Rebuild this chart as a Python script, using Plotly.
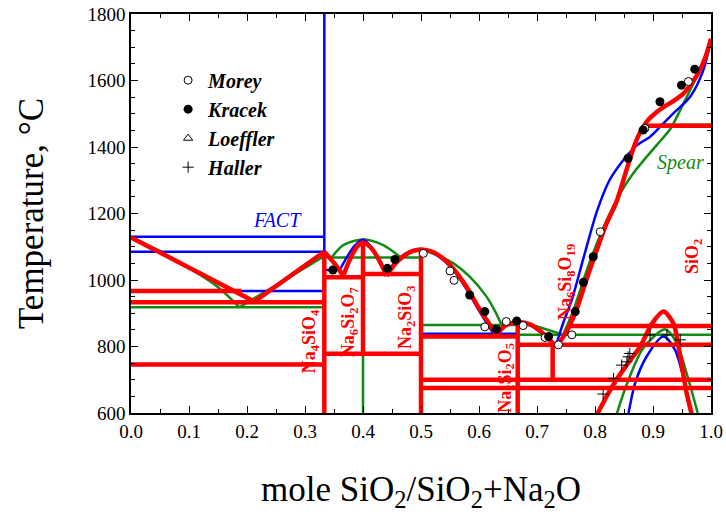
import plotly.graph_objects as go

# ---------------- data: mole fraction SiO2 vs temperature (deg C) ----------------
# assessed (red) liquidus branches
red_left_x = [0.0, 0.2126, 0.3333]
red_left_t = [1128, 935, 1085]
red_n6a_x = [0.3333, 0.345, 0.356, 0.366]
red_n6a_t = [1085, 1062, 1038, 1012]
red_n6_x = [0.366, 0.375, 0.385, 0.393, 0.4, 0.408, 0.418, 0.43, 0.441]
red_n6_t = [1012, 1052, 1088, 1106, 1113, 1106, 1088, 1052, 1012]
red_ns_x = [0.441, 0.455, 0.47, 0.485, 0.5, 0.52, 0.54, 0.56, 0.58, 0.60, 0.615, 0.63]
red_ns_t = [1012, 1048, 1072, 1087, 1092, 1085, 1062, 1025, 975, 915, 875, 835]
red_ns2_x = [0.63, 0.645, 0.667, 0.69, 0.71, 0.733]
red_ns2_t = [835, 862, 874, 865, 840, 800]
red_sio2_x = [0.733, 0.75, 0.768, 0.785, 0.803, 0.82, 0.837, 0.855, 0.868, 0.878, 0.89,
              0.905, 0.92, 0.935, 0.952, 0.965, 0.978, 0.99, 1.0]
red_sio2_t = [800, 842, 910, 1000, 1090, 1170, 1235, 1335, 1405, 1445, 1478,
              1503, 1522, 1538, 1560, 1588, 1622, 1668, 1725]
red_gap_x = [0.795, 0.803, 0.82, 0.837, 0.858, 0.878, 0.898, 0.918, 0.935, 0.947, 0.958, 0.967, 0.972]
red_gap_t = [570, 594, 650, 700, 752, 800, 868, 905, 870, 770, 660, 594, 560]

# red invariant lines: (x_start, x_end, T)
red_h = [(0.0, 0.19, 967), (0.0, 0.3333, 933), (0.0, 0.3333, 746),
         (0.3333, 0.4, 1008), (0.4, 0.5, 1018), (0.3333, 0.5, 778),
         (0.5, 0.6667, 830), (0.5, 1.0, 700), (0.5, 1.0, 675),
         (0.6667, 1.0, 805), (0.754, 1.0, 862), (0.886, 1.0, 1464)]
# red compound lines: (x, T_low, T_high)
red_v = [(0.3333, 600, 1085), (0.4, 778, 1113), (0.5, 600, 1092),
         (0.6667, 600, 874), (0.727, 700, 805)]

# FACT (blue)
blue_h = [(0.0, 0.3333, 1130), (0.0, 0.3333, 1085), (0.0, 0.3333, 967),
          (0.3333, 0.36, 1030), (0.5, 0.6667, 838), (0.6667, 1.0, 805)]
blue_v = [(0.3333, 600, 1800)]
blue_n6a_x = [0.3333, 0.345, 0.36]
blue_n6a_t = [1085, 1060, 1030]
blue_n6_x = [0.36, 0.372, 0.385, 0.4, 0.413, 0.427, 0.44]
blue_n6_t = [1030, 1068, 1102, 1122, 1102, 1062, 1020]
blue_ns_x = [0.44, 0.46, 0.48, 0.5, 0.52, 0.54, 0.56, 0.58, 0.60, 0.625]
blue_ns_t = [1020, 1062, 1085, 1093, 1082, 1058, 1020, 968, 908, 838]
blue_ns2_x = [0.625, 0.645, 0.667, 0.69, 0.71, 0.733]
blue_ns2_t = [838, 862, 872, 862, 838, 805]
blue_sio2_x = [0.733, 0.745, 0.76, 0.78, 0.803, 0.825, 0.849, 0.872, 0.895, 0.915,
               0.935, 0.964, 0.987, 1.0]
blue_sio2_t = [805, 870, 940, 1065, 1205, 1300, 1361, 1405, 1431, 1466,
               1501, 1551, 1632, 1725]
blue_gap_x = [0.852, 0.857, 0.869, 0.889, 0.918, 0.938, 0.952, 0.967, 0.972]
blue_gap_t = [560, 594, 689, 770, 830, 790, 709, 594, 560]

# Spear (green)
green_h = [(0.0, 0.3333, 918), (0.345, 0.5, 1068), (0.5, 0.6667, 865),
           (0.6667, 1.0, 835), (0.91, 1.0, 1467)]
green_v = [(0.4, 600, 778)]
green_left_x = [0.0, 0.057, 0.149, 0.187]
green_left_t = [1128, 1080, 980, 918]
green_n4_x = [0.187, 0.26, 0.3333, 0.345]
green_n4_t = [918, 995, 1072, 1066]
green_n6_x = [0.345, 0.366, 0.4, 0.435, 0.465]
green_n6_t = [1066, 1105, 1122, 1105, 1068]
green_ns_x = [0.465, 0.485, 0.5, 0.527, 0.556, 0.584, 0.613, 0.628, 0.639]
green_ns_t = [1068, 1085, 1090, 1075, 1050, 1010, 950, 905, 865]
green_ns2_x = [0.639, 0.667, 0.70, 0.745]
green_ns2_t = [865, 873, 860, 835]
green_sio2_x = [0.745, 0.763, 0.79, 0.82, 0.845, 0.866, 0.885, 0.906, 0.93, 0.947,
                0.961, 0.978, 0.992, 1.0]
green_sio2_t = [835, 910, 1050, 1180, 1265, 1321, 1362, 1405, 1455, 1511,
                1561, 1620, 1682, 1725]
green_gap_x = [0.832, 0.837, 0.86, 0.883, 0.921, 0.941, 0.958, 0.978, 0.983]
green_gap_t = [560, 594, 710, 795, 852, 810, 719, 594, 560]

# experimental points
morey_x = [0.504, 0.55, 0.557, 0.61, 0.647, 0.676, 0.714, 0.737, 0.76, 0.809, 0.886, 0.961]
morey_t = [1080, 1027, 999, 859, 875, 863, 827, 805, 835, 1145, 1456, 1597]
kracek_x = [0.348, 0.442, 0.455, 0.584, 0.61, 0.63, 0.665, 0.72, 0.766, 0.78, 0.797,
            0.857, 0.883, 0.912, 0.949, 0.972]
kracek_t = [1030, 1035, 1062, 955, 905, 852, 877, 830, 905, 993, 1070,
            1366, 1451, 1536, 1586, 1634]
loeffler_x = [None]
loeffler_t = [None]
haller_x = [0.814, 0.832, 0.846, 0.855, 0.857, 0.860, 0.895, 0.924, 0.947]
haller_t = [657, 704, 744, 754, 769, 779, 835, 835, 820]

# rotated phase labels: (text, x, T)
phase_labels = [("Na<sub>4</sub>SiO<sub>4</sub>", 0.31, 815),
                ("Na<sub>6</sub>Si<sub>2</sub>O<sub>7</sub>", 0.378, 874),
                ("Na<sub>2</sub>SiO<sub>3</sub>", 0.476, 889),
                ("Na<sub>2</sub>Si<sub>2</sub>O<sub>5</sub>", 0.646, 705),
                ("Na<sub>6</sub>Si<sub>8</sub>O<sub>19</sub>", 0.75, 994),
                ("SiO<sub>2</sub>", 0.969, 1069)]

RED, BLUE, GREEN = "#ff0000", "#0000ff", "#138a13"
FONT = "Liberation Serif"

fig = go.Figure()


def curve(xs, ts, color, width, shape="spline"):
    fig.add_trace(go.Scatter(x=xs, y=ts, mode="lines", showlegend=False, hoverinfo="skip",
                             line=dict(color=color, width=width, shape=shape, smoothing=0.8)))


def hlines(items, color, width):
    for x0, x1, t in items:
        curve([x0, x1], [t, t], color, width, "linear")


def vlines(items, color, width):
    for x, t0, t1 in items:
        curve([x, x], [t0, t1], color, width, "linear")


# Spear
hlines(green_h, GREEN, 2.5)
vlines(green_v, GREEN, 2.5)
curve(green_left_x, green_left_t, GREEN, 2.5)
curve(green_n4_x, green_n4_t, GREEN, 2.5, "linear")
for xs, ts in [(green_n6_x, green_n6_t), (green_ns_x, green_ns_t), (green_ns2_x, green_ns2_t),
               (green_sio2_x, green_sio2_t), (green_gap_x, green_gap_t)]:
    curve(xs, ts, GREEN, 2.5)

# FACT
hlines(blue_h, BLUE, 2.5)
vlines(blue_v, BLUE, 2.5)
for xs, ts in [(blue_n6a_x, blue_n6a_t), (blue_n6_x, blue_n6_t), (blue_ns_x, blue_ns_t),
               (blue_ns2_x, blue_ns2_t), (blue_sio2_x, blue_sio2_t), (blue_gap_x, blue_gap_t)]:
    curve(xs, ts, BLUE, 2.5)

# assessed diagram
hlines(red_h, RED, 4.5)
vlines(red_v, RED, 4.5)
curve(red_left_x, red_left_t, RED, 4.5, "linear")
for xs, ts in [(red_n6a_x, red_n6a_t), (red_n6_x, red_n6_t), (red_ns_x, red_ns_t),
               (red_ns2_x, red_ns2_t), (red_sio2_x, red_sio2_t), (red_gap_x, red_gap_t)]:
    curve(xs, ts, RED, 4.5)

# experimental data
fig.add_trace(go.Scatter(x=morey_x, y=morey_t, mode="markers", name="<b><i>Morey</i></b>",
                         marker=dict(symbol="circle", size=8, color="white",
                                     line=dict(color="black", width=1))))
fig.add_trace(go.Scatter(x=kracek_x, y=kracek_t, mode="markers", name="<b><i>Kracek</i></b>",
                         marker=dict(symbol="circle", size=9, color="black")))
fig.add_trace(go.Scatter(x=loeffler_x, y=loeffler_t, mode="markers", name="<b><i>Loeffler</i></b>",
                         marker=dict(symbol="triangle-up-open", size=8, color="black",
                                     line=dict(width=1))))
fig.add_trace(go.Scatter(x=haller_x, y=haller_t, mode="markers", name="<b><i>Haller</i></b>",
                         marker=dict(symbol="cross-thin-open", size=8, color="black",
                                     line=dict(width=1, color="black"))))

for txt, x, t in phase_labels:
    fig.add_annotation(x=x, y=t, text="<b>" + txt + "</b>", showarrow=False, textangle=-90,
                       font=dict(family=FONT, size=18, color=RED))
fig.add_annotation(x=0.253, y=1180, text="<i>FACT</i>", showarrow=False,
                   font=dict(family=FONT, size=20, color=BLUE))
fig.add_annotation(x=0.947, y=1352, text="<i>Spear</i>", showarrow=False,
                   font=dict(family=FONT, size=20, color=GREEN))

axis_common = dict(showline=True, linecolor="black", linewidth=1.5, mirror="allticks",
                   ticks="inside", ticklen=7, tickwidth=1.2, tickcolor="black",
                   showgrid=False, zeroline=False, automargin=False,
                   tickfont=dict(family=FONT, size=19, color="black"))
fig.update_xaxes(range=[0, 1], dtick=0.1, tickformat=".1f",
                 minor=dict(ticks="inside", ticklen=4, dtick=0.05, tickcolor="black"),
                 title=dict(text="mole SiO<sub>2</sub>/SiO<sub>2</sub>+Na<sub>2</sub>O",
                            font=dict(family=FONT, size=35, color="black"), standoff=36),
                 **axis_common)
fig.update_yaxes(range=[600, 1800], dtick=200,
                 minor=dict(ticks="inside", ticklen=4, dtick=50, tickcolor="black"),
                 title=dict(text="Temperature, °C",
                            font=dict(family=FONT, size=35, color="black"), standoff=33),
                 **axis_common)

fig.update_layout(width=726, height=517, margin=dict(l=131, r=15, t=14, b=104),
                  paper_bgcolor="white", plot_bgcolor="white",
                  legend=dict(x=0.064, y=0.883, xanchor="left", yanchor="top",
                              bgcolor="rgba(0,0,0,0)", font=dict(family=FONT, size=20, color="black"),
                              tracegroupgap=0, itemwidth=30))

fig.write_html("out.html")
